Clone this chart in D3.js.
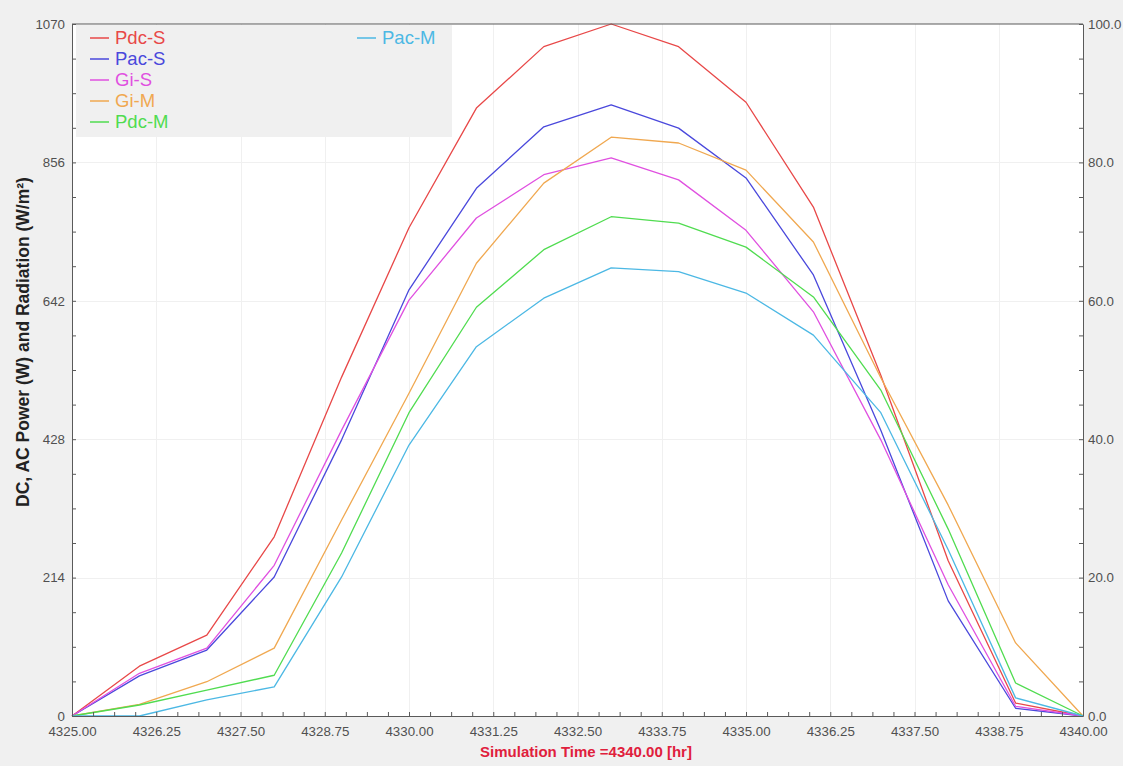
<!DOCTYPE html>
<html>
<head>
<meta charset="utf-8">
<script src="https://cdn.jsdelivr.net/npm/d3@7"></script>
<style>
  body { margin: 0; background: #f0f0f0; }
  svg { display: block; font-family: "Liberation Sans", Arial, sans-serif; }
</style>
</head>
<body>
<script>
// hours on the x axis
var hours = [4325, 4326, 4327, 4328, 4329, 4330, 4331, 4332, 4333, 4334, 4335, 4336, 4337, 4338, 4339, 4340];

// series values
var pdcS = [0, 77, 125, 277, 524, 755, 940, 1035, 1070, 1035, 949, 787, 527, 240, 20, 0];
var pacS = [0, 62, 102, 215, 427, 659, 816, 911, 945, 909, 832, 682, 442, 178, 12, 0];
var giS  = [0, 66, 105, 233, 442, 643, 770, 837, 863, 829, 751, 625, 427, 203, 15, 0];
var giM  = [0, 18, 53, 105, 303, 499, 700, 824, 895, 886, 844, 733, 523, 326, 113, 0];
var pdcM = [0, 17, 40, 63, 252, 469, 632, 721, 772, 762, 725, 648, 504, 289, 51, 0];
var pacM = [0, 0, 25, 45, 215, 419, 571, 646, 693, 687, 654, 589, 469, 257, 28, 0];

var seriesNames = ["Pdc-S", "Pac-S", "Gi-S", "Gi-M", "Pdc-M", "Pac-M"];
var seriesColors = ["#e84848", "#4a48dc", "#e050e0", "#f0a850", "#50dc50", "#4cb8e4"];
var seriesValues = [pdcS, pacS, giS, giM, pdcM, pacM];

// tick labels
var xTicks = [4325, 4326.25, 4327.5, 4328.75, 4330, 4331.25, 4332.5, 4333.75, 4335, 4336.25, 4337.5, 4338.75, 4340];
var yTicks = [0, 214, 428, 642, 856, 1070];
var y2Ticks = [0, 20, 40, 60, 80, 100];

var W = 1123, H = 766;
var margin = { top: 24, right: 40, bottom: 50, left: 72 };

var svg = d3.select("body").append("svg")
    .attr("width", W)
    .attr("height", H);

svg.append("rect").attr("width", W).attr("height", H).attr("fill", "#f0f0f0");

var x = d3.scaleLinear().domain([4325, 4340]).range([margin.left, W - margin.right]);
var y = d3.scaleLinear().domain([0, 1070]).range([H - margin.bottom, margin.top]);
var y2 = d3.scaleLinear().domain([0, 100]).range([H - margin.bottom, margin.top]);

// white plot area
svg.append("rect")
    .attr("x", x(4325)).attr("y", y(1070))
    .attr("width", x(4340) - x(4325)).attr("height", y(0) - y(1070))
    .attr("fill", "#ffffff");

// faint grid
var grid = svg.append("g").attr("stroke", "#f0f0f0").attr("stroke-width", 1);
grid.selectAll(".gx").data(xTicks.slice(1, -1)).enter().append("line")
    .attr("x1", d => Math.round(x(d)) + 0.5).attr("x2", d => Math.round(x(d)) + 0.5)
    .attr("y1", y(1070)).attr("y2", y(0));
grid.selectAll(".gy").data(yTicks.slice(1, -1)).enter().append("line")
    .attr("y1", d => Math.round(y(d)) + 0.5).attr("y2", d => Math.round(y(d)) + 0.5)
    .attr("x1", x(4325)).attr("x2", x(4340));

// lines
var line = d3.line()
    .x((d, i) => x(hours[i]))
    .y(d => y(d));

svg.append("g").selectAll("path")
    .data(seriesValues)
    .enter().append("path")
    .attr("d", line)
    .attr("fill", "none")
    .attr("stroke", (d, i) => seriesColors[i])
    .attr("stroke-width", 1.3)
    .attr("stroke-linejoin", "round");

// minor tick positions (4 sub divisions)
var xMinor = d3.range(0, 49).map(i => 4325 + i * 0.3125);
var yMinor = d3.range(0, 21).map(i => i * 53.5);

function styleAxis(g) {
    g.select(".domain").attr("stroke", "#5a5a5a");
    g.selectAll(".tick line").attr("stroke", "#5a5a5a");
    g.selectAll("text").attr("fill", "#505050").attr("font-size", "13.3px")
        .attr("font-family", "Liberation Sans, Arial, sans-serif");
}

// bottom axis
svg.append("g")
    .attr("transform", "translate(0," + y(0) + ")")
    .call(d3.axisBottom(x).tickValues(xMinor).tickSize(-4).tickSizeOuter(0).tickFormat(""))
    .call(styleAxis);
svg.append("g")
    .attr("transform", "translate(0," + y(0) + ")")
    .call(d3.axisBottom(x).tickValues(xTicks).tickSize(0).tickPadding(11).tickFormat(d3.format(".2f")))
    .call(styleAxis)
    .call(g => g.select(".domain").remove());

// top frame
svg.append("line")
    .attr("x1", x(4325)).attr("x2", x(4340))
    .attr("y1", y(1070)).attr("y2", y(1070))
    .attr("stroke", "#5a5a5a");

// left axis
svg.append("g")
    .attr("transform", "translate(" + x(4325) + ",0)")
    .call(d3.axisLeft(y).tickValues(yMinor).tickSize(-4).tickSizeOuter(0).tickFormat(""))
    .call(styleAxis);
svg.append("g")
    .attr("transform", "translate(" + x(4325) + ",0)")
    .call(d3.axisLeft(y).tickValues(yTicks).tickSize(0).tickPadding(7).tickFormat(d3.format("d")))
    .call(styleAxis)
    .call(g => g.select(".domain").remove());

// right axis
svg.append("g")
    .attr("transform", "translate(" + x(4340) + ",0)")
    .call(d3.axisRight(y2).tickValues(d3.range(0, 21).map(i => i * 5)).tickSize(-4).tickSizeOuter(0).tickFormat(""))
    .call(styleAxis);
svg.append("g")
    .attr("transform", "translate(" + x(4340) + ",0)")
    .call(d3.axisRight(y2).tickValues(y2Ticks).tickSize(0).tickPadding(5).tickFormat(d3.format(".1f")))
    .call(styleAxis)
    .call(g => g.select(".domain").remove());

// legend
svg.append("rect")
    .attr("x", 76).attr("y", 25)
    .attr("width", 376).attr("height", 112)
    .attr("fill", "#f0f0f0");

var legend = svg.selectAll(".legend")
    .data(seriesNames)
    .enter().append("g")
    .attr("class", "legend")
    .attr("transform", function (d, i) {
        return i < 5 ? "translate(90," + (38 + i * 21) + ")" : "translate(357,38)";
    });

legend.append("line")
    .attr("x1", 0).attr("x2", 19)
    .attr("stroke", (d, i) => seriesColors[i])
    .attr("stroke-width", 1.5);

legend.append("text")
    .attr("x", 25)
    .attr("dy", "0.35em")
    .attr("font-size", "18.5px")
    .attr("fill", (d, i) => seriesColors[i])
    .text(d => d);

// axis titles
svg.append("text")
    .attr("transform", "translate(29," + 342 + ") rotate(-90)")
    .attr("text-anchor", "middle")
    .attr("font-size", "17.5px")
    .attr("font-weight", "bold")
    .attr("fill", "#222")
    .text("DC, AC Power (W) and Radiation (W/m²)");

svg.append("text")
    .attr("x", 586)
    .attr("y", 757)
    .attr("text-anchor", "middle")
    .attr("font-size", "15px")
    .attr("font-weight", "bold")
    .attr("fill", "#e0203c")
    .text("Simulation Time =4340.00 [hr]");
</script>
</body>
</html>
